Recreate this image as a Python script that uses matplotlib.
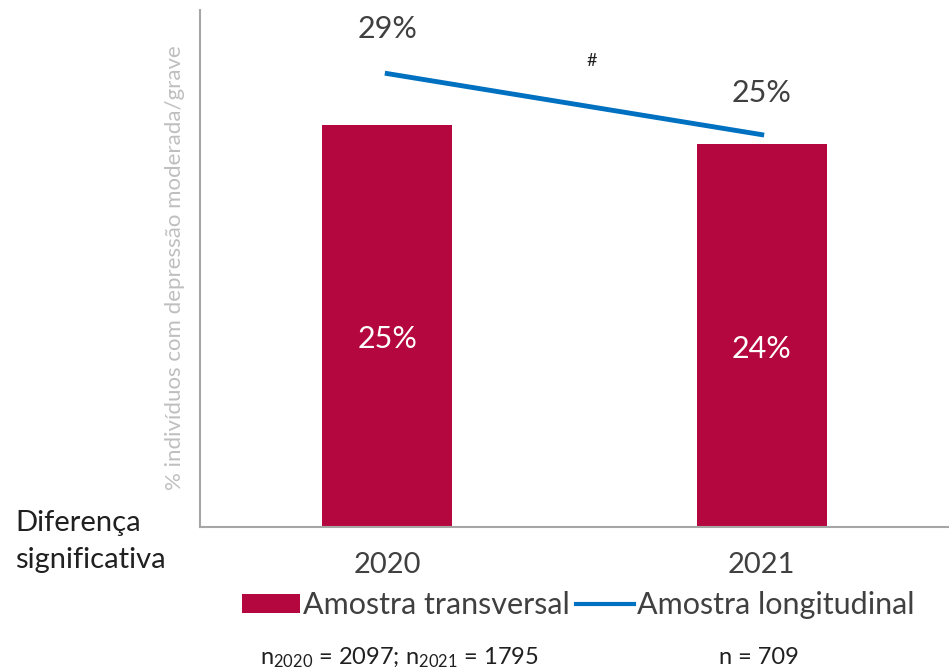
import matplotlib.pyplot as plt
from matplotlib.patches import Patch
from matplotlib.lines import Line2D

plt.rcParams['font.family'] = ['Lato', 'DejaVu Sans']
plt.rcParams['mathtext.fontset'] = 'custom'
plt.rcParams['mathtext.rm'] = 'Lato'

years = ["2020", "2021"]
transversal = [25.0, 23.8]
transversal_labels = ["25%", "24%"]
longitudinal = [28.2, 24.4]
longitudinal_labels = ["29%", "25%"]
sample_notes = [r"$\mathregular{n_{2020}}$ = 2097; $\mathregular{n_{2021}}$ = 1795", "n = 709"]

BAR_CLR = "#B5073F"
LINE_CLR = "#0070C0"
TEXT_CLR = "#404040"
SPINE_CLR = "#A6A6A6"

fig = plt.figure(figsize=(9.49, 6.70), dpi=100)
ax = fig.add_axes([0.2107, 0.2134, 0.7893, 0.7716])

x = list(range(len(years)))
ax.bar(x, transversal, width=0.346, color=BAR_CLR, zorder=2)
ax.plot(x, longitudinal, color=LINE_CLR, linewidth=3.5, zorder=3)

for xi, v, lab in zip(x, transversal, transversal_labels):
    ax.text(xi, v * 0.5 - 0.8, lab, ha="center", va="center",
            color="white", fontsize=22)
ax.text(x[0], 31.0, longitudinal_labels[0], ha="center", va="center",
        color=TEXT_CLR, fontsize=22)
ax.text(x[1], 27.0, longitudinal_labels[1], ha="center", va="center",
        color=TEXT_CLR, fontsize=22)
ax.text(0.545, 29.0, "#", ha="center", va="center", color="#202020", fontsize=13)

ax.set_xlim(-0.5, 1.5)
ax.set_ylim(0, 32.15)
ax.set_xticks(x, years)
ax.tick_params(axis="x", length=0, pad=18, labelsize=21, labelcolor=TEXT_CLR)
ax.set_yticks([])
for side in ["top", "right"]:
    ax.spines[side].set_visible(False)
for side in ["left", "bottom"]:
    ax.spines[side].set_color(SPINE_CLR)
    ax.spines[side].set_linewidth(1.5)

fig.text(0.184, 0.60, "% indivíduos com depressão moderada/grave", rotation=90,
         ha="center", va="center", color="#BFBFBF", fontsize=16)

fig.text(0.016, 0.22, "Diferença", ha="left", va="center", color="#202020", fontsize=21)
fig.text(0.016, 0.164, "significativa", ha="left", va="center", color="#202020", fontsize=21)

handles = [Patch(facecolor=BAR_CLR, edgecolor="none"),
           Line2D([0], [0], color=LINE_CLR, linewidth=3)]
fig.legend(handles, ["Amostra transversal", "Amostra longitudinal"],
           loc="center", bbox_to_anchor=(0.609, 0.097), ncol=2, frameon=False,
           fontsize=22, labelcolor=TEXT_CLR, handlelength=1.9, handleheight=0.6,
           handletextpad=0.1, columnspacing=0.2)

fig.text(0.421, 0.018, sample_notes[0], ha="center", va="center",
         color="#202020", fontsize=17)
fig.text(0.800, 0.018, sample_notes[1], ha="center", va="center",
         color="#202020", fontsize=17)

fig.savefig("out.png", dpi=100)
